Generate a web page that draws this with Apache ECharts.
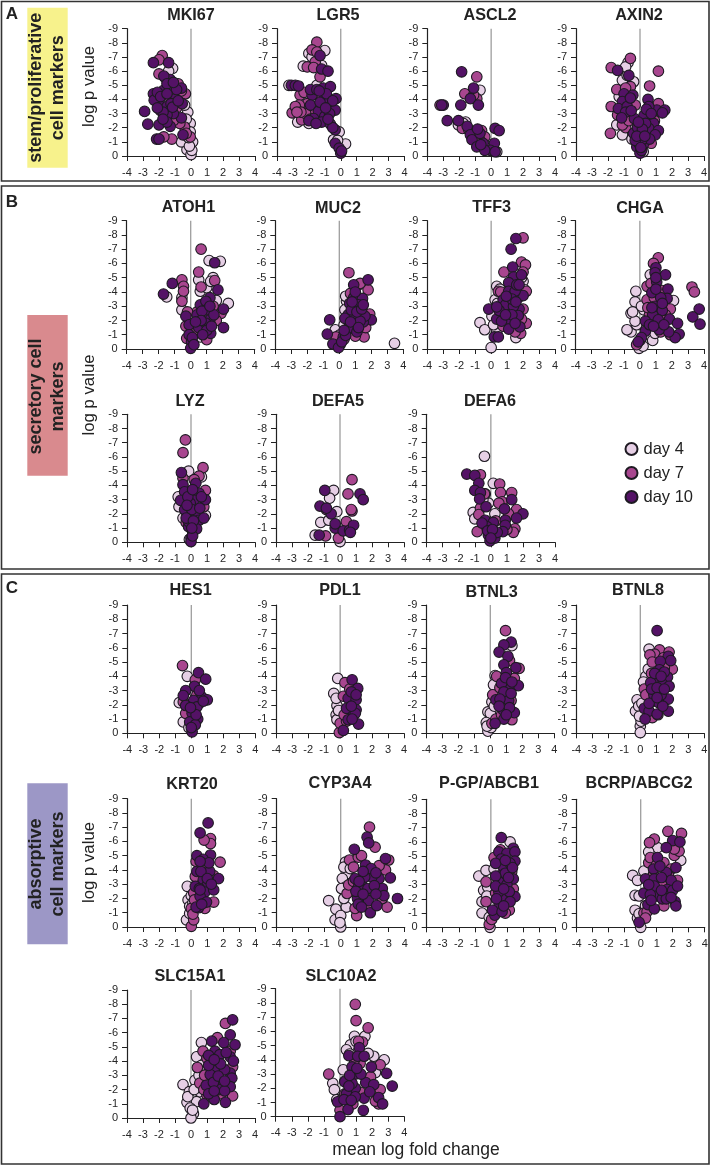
<!DOCTYPE html>
<html><head><meta charset="utf-8">
<style>html,body{margin:0;padding:0;background:#fff}#c{width:711px;height:1166px}</style>
<script src="https://cdn.jsdelivr.net/npm/echarts@6/dist/echarts.min.js"></script>
</head><body><div id="c"></div>
<script>
const xTickMin=-4, xTickMax=4, yTickMin=-9, yTickMax=0;
const zeroLine=[[0,-9],[0,0]];
const days=['day 4','day 7','day 10'];

const MKI67_d4=[[-1.15,-6.2],[-.25,-.45],[0,-.1],[.1,-1],[-.2,-3.1],[-.05,-2.3],[-.6,-1],[.05,-.4],[-.05,-1.7],[-1.4,-6],[-.3,-2.6],[-.1,-.7],[-.15,-1.3],[-.4,-3.6]];
const MKI67_d7=[[-1.8,-7.1],[-2,-6.8],[-2,-5.8],[-.35,-4.4],[-1.2,-1.2],[-1.7,-1.35],[-.4,-2.05],[-.7,-2.3],[-.05,-1.35],[-.8,-5.1],[-1.6,-5.5],[-1.1,-2.5],[-.9,-3.4],[-1.9,-3.2],[-.6,-4.6],[-.3,-1.6],[-1.5,-4.3]];
const MKI67_d10=[[-2.35,-6.6],[-1.4,-6.6],[-2.9,-3.15],[-2.7,-2.25],[-2,-2.2],[-1.3,-2.1],[-2.15,-1.2],[-2,-1.2],[-.5,-1.5],[-.6,-2.7],[-.55,-3.7],[-1.1,-3],[-1.5,-2.9],[-2,-3.85],[-1,-4.05],[-2.35,-4.4],[-1.7,-4.65],[-1.1,-4.85],[-.6,-4.8],[-1.3,-5.4],[-1.7,-5.65],[-2.3,-3.95],[-1.5,-3.5],[-2.1,-4.5],[-1.5,-5.1],[-1.25,-3.7],[-1.75,-3.1],[-1.5,-2.4],[-.9,-4.7],[-1.9,-4.2],[-1.5,-4.4],[-2.1,-3.4],[-1.15,-3.45],[-.8,-3.9],[-1.75,-2.6],[-1.1,-5.2]];

const LGR5_d4=[[-1,-7.45],[-2,-7.25],[-2.35,-6.35],[-1.5,-5],[-2.7,-2.4],[.3,-.85],[-.1,-1.7],[-.45,-1.15],[-3.25,-5],[-2,-2.3],[-1.2,-6.4],[-.2,-1.1],[-1.8,-7]];
const LGR5_d7=[[-1.5,-8.05],[-1.8,-7.5],[-1.5,-7.35],[-1.6,-6.65],[-2.1,-6.3],[-1.7,-6.25],[-1.3,-5.6],[-3.05,-3.05],[-2.55,-4.3],[-2.45,-2.55],[-2.1,-3.7],[-2.6,-3.6],[-1.6,-3],[-1.3,-4.2],[-2.2,-3],[-1.9,-2.6],[-2.3,-4.5],[-2.85,-3.5],[-2.5,-3.1],[-2.75,-3.1]];
const LGR5_d10=[[-3.1,-5],[-2.85,-5],[-2.65,-4.95],[-1.3,-7.1],[-1.2,-6.15],[-.8,-6],[-1.1,-4.8],[-.65,-4.9],[-1.8,-4.3],[-.3,-4.05],[-.75,-3.85],[-.35,-3.25],[-1.9,-3.6],[-1.4,-3.15],[-1,-2.8],[-1.7,-2.65],[-1.2,-2.4],[-.65,-2.25],[-.35,-1.85],[-.35,-.9],[-.1,-.55],[0,-.2],[-1.9,-4.7],[-1,-4.1],[-.7,-3],[-1.3,-3.8],[-.9,-4.4],[-.5,-2],[-2,-2.5],[-.5,-3.9],[.05,-.35],[-1.5,-4.7],[-.95,-3.4],[-1.55,-2.3],[-.8,-2.6],[-1.35,-4.6]];

const ASCL2_d4=[[-.7,-4.65],[-2.05,-2.2],[-1.6,-2.4],[.35,-.3],[-1.2,-4.2],[-1.75,-2.3],[-.3,-.7],[-.9,-1.6]];
const ASCL2_d7=[[-.9,-5.6],[-1.65,-4.4],[-.9,-4.05],[-3.2,-3.6],[-.6,-1.8],[-1.8,-1.95],[-.4,-1.35],[-1.4,-1.85],[-.7,-1.1],[.15,-.5],[-1.1,-4.3]];
const ASCL2_d10=[[-1.85,-5.95],[-1.1,-4.8],[-1.3,-4.05],[-1.9,-3.6],[-.8,-3.6],[-3,-3.6],[-2.75,-2.5],[-2.05,-2.5],[-1.5,-2.1],[-.95,-1.65],[-1.3,-1.5],[-1.2,-1.15],[-.9,-.65],[.25,-1.95],[.5,-1.8],[.2,-.9],[-.05,-.4],[-.5,-.9],[-.4,-.4],[.25,-.3],[-.7,-1.6],[-3.1,-3.6],[-.85,-1.9],[-.65,-.8]];

const AXIN2_d4=[[-.75,-6.6],[-.4,-5.25],[-1.1,-5.35],[-1.45,-2.2],[-1.1,-1.5],[-.8,-2.05],[-1.2,-3],[-.8,-5.7],[-.9,-6.3],[-.5,-1.2],[.2,-.3],[-1.3,-4.2],[-.6,-3.8]];
const AXIN2_d7=[[-.6,-6.9],[-1.8,-6.25],[1.15,-6],[.6,-4.95],[-1.45,-4.7],[-1.85,-1.6],[-1.8,-3.5],[1.15,-3.7],[.7,-.9],[-.6,-4.9],[-.9,-4.8],[-.9,-2],[-1.4,-2.9],[.2,-2.3],[.6,-2.8],[-.3,-3.6],[-.2,-1],[-1.1,-2.2],[-.7,-2.5],[.9,-2.5],[.4,-1.5]];
const AXIN2_d10=[[-1.4,-6.05],[-.7,-5.7],[-1,-4.4],[-.45,-4.3],[.5,-4],[-1.1,-3.85],[-1.35,-3.35],[-.8,-3.5],[1.05,-3.25],[1.55,-3.25],[1.4,-3.05],[-.9,-3.1],[-1.15,-2.7],[-.35,-2.65],[.25,-2.85],[.55,-3.5],[.85,-2.3],[.55,-1.95],[1.15,-1.8],[.95,-1.5],[.05,-1.5],[-.4,-1.6],[-.2,-.65],[0,-.2],[-.1,-1.15],[.25,-.9],[.35,-2.3],[-.6,-4.1],[.4,-3.3],[.1,-.4],[-.15,-2],[-.05,-.85],[.15,-1.9],[.6,-1.2],[.1,-1.1],[-.3,-1.1],[.05,-.6],[-.55,-3.2],[.7,-3],[-.1,-2.4],[-.2,-1.4],[.3,-1.4]];

const ATOH1_d4=[[1.15,-6.2],[1.85,-6.15],[1.4,-5],[.5,-4.85],[2.35,-3.2],[.6,-4.05],[1,-4.3],[1.25,-4.75],[-.55,-2.75],[-1.5,-3.65],[-.55,-3.6],[.6,-.85],[1.6,-3.4],[.15,-.4]];
const ATOH1_d7=[[.65,-7],[.5,-5.4],[-.55,-4.85],[-.45,-4.4],[-.45,-4.05],[.65,-4.35],[1.5,-4.8],[-.55,-3.35],[1,-.65],[-.25,-.75],[1.9,-2.5],[-.3,-1.6],[1.6,-2],[.4,-2.6],[-.2,-2.6],[.9,-1.3],[1.4,-3],[.8,-2.4],[.3,-1.2]];
const ATOH1_d10=[[-1.7,-3.85],[-1.15,-4.6],[1.5,-6.05],[1.7,-4.15],[2.05,-2.8],[2.05,-1.5],[1.2,-3.6],[.6,-3.1],[.95,-3.35],[1,-2.75],[-.3,-2.3],[.4,-2.4],[1.2,-2.05],[-.1,-1.7],[.5,-1.5],[.95,-1.8],[1.25,-1.1],[-.1,-1],[.05,-.5],[0,-.05],[.7,-2.65],[1.45,-2.4],[.1,-.8],[1,-1.3],[.65,-2],[.2,-.3],[.75,-1],[1.3,-1.6],[.3,-1.9],[1.2,-3]];

const MUC2_d4=[[.45,-3.35],[3.45,-.4],[-.25,-1.35],[.35,-2.75],[.05,-1],[.4,-3.7],[.55,-2.3],[.3,-1.7]];
const MUC2_d7=[[.6,-5.35],[1.2,-4.5],[1.8,-4.15],[1.3,-4.6],[1.55,-.85],[1.9,-2.45],[.05,-.3],[.3,-.7],[-.2,-.85],[1,-.9],[.7,-3.9],[1.65,-1.5]];
const MUC2_d10=[[-.6,-2.05],[-.75,-1.05],[-.4,-.35],[-.05,-.1],[.25,-.85],[.9,-4.5],[.9,-3.6],[.65,-3.2],[.55,-2.4],[.9,-2.3],[.9,-1.45],[.55,-1.45],[1.8,-4.85],[1.45,-3.55],[2,-2.05],[1.5,-1.9],[1,-4],[1.6,-2.3],[1.2,-3.1],[1.3,-1.95],[.35,-2.15],[.15,-.5],[.75,-2.75],[1.1,-2.6],[.4,-.95],[1.1,-1.2],[1.4,-2.8],[.7,-1.9],[1.5,-3.1],[.8,-3.3],[1.2,-1.5],[.3,-1.3]];

const TFF3_d4=[[0,-.1],[-.7,-1.85],[-.4,-1.35],[.35,-4.4],[1.55,-.8],[.35,-1.2],[.05,-2.3],[.25,-3.45],[2,-4.75],[2.1,-4.15],[.15,-1.7],[1.9,-5],[.4,-3.2],[.55,-4.2]];
const TFF3_d7=[[2,-7.8],[.8,-5.4],[1.9,-6.1],[2.15,-5.9],[2,-5.4],[.45,-4.05],[2.2,-1.8],[1.85,-1.1],[2,-2.8],[2.2,-4.05],[.6,-4],[1.4,-1.9],[1.7,-3.6],[1.5,-1.2],[.75,-1.6],[1.9,-2.1]];
const TFF3_d10=[[1.55,-7.75],[1.25,-7],[1.35,-5.75],[1.4,-5.05],[1.9,-5.2],[1.1,-4.65],[1.1,-4.05],[2,-3.75],[-.15,-2.8],[.75,-3.45],[.65,-2.8],[1.1,-3.1],[1.75,-2.8],[1.7,-2.35],[.35,-2.1],[1.1,-2.1],[1.1,-1.4],[1.8,-1.55],[.2,-.85],[.45,-.85],[1.5,-4.05],[.65,-1.95],[.9,-3.1],[1.4,-3],[1.3,-2.4],[.5,-2.7],[1.5,-1.8],[.9,-2.4],[1.3,-3.5],[.95,-3.7],[1.55,-3.3],[1.6,-4.5],[.35,-2.95],[1.75,-4.5]];

const CHGA_d4=[[-.25,-4.05],[-.55,-2.5],[-.3,-3.3],[-.55,-1.2],[-.8,-1.35],[-.2,-1.7],[.8,-.6],[.65,-5.2],[2.1,-3.4],[-.05,-.05],[.25,-2.75],[-.3,-1.95],[.2,-.2],[.95,-1.1],[-.45,-2.6],[.1,-3]];
const CHGA_d7=[[1.15,-6.4],[3.25,-4.35],[3.4,-4],[.45,-4.4],[.85,-6],[1.9,-2.8],[-.2,-.3],[1.9,-1],[.45,-3.45],[1.5,-3.5],[.9,-3.6],[0,-.6],[1.3,-1.2],[.6,-2.4],[1.4,-4.1],[.7,-4.6],[.5,-2.9],[1.6,-2.4]];
const CHGA_d10=[[1,-5.7],[.95,-5.35],[1.6,-5.2],[1.05,-4.7],[1.75,-4.2],[.75,-3.95],[1.7,-3.55],[.95,-3],[1.4,-2.7],[.8,-2.4],[.35,-1.95],[1.15,-2.05],[1.85,-2.1],[2.35,-1.8],[2.45,-1.05],[2.2,-.8],[1.8,-1.2],[1.2,-1.35],[.35,-1.25],[.1,-.8],[-.1,-.5],[3.7,-2.8],[3.3,-2.25],[3.75,-1.75],[1,-5],[1.3,-3.6],[.6,-1.7],[1,-4.2],[1.4,-3.2],[.75,-2.9],[1.5,-1.7],[.85,-1.6]];

const LYZ_d4=[[-.15,-5],[.65,-4.6],[-.75,-2.5],[.9,-1.9],[-.8,-3.2],[-.1,-.2],[.3,-2.2],[-.5,-1.7]];
const LYZ_d7=[[-.35,-7.2],[-.5,-6.3],[.75,-5.25],[.5,-4.65],[.9,-3.65],[-.5,-4.5],[-.05,-3.55],[.8,-2.5],[.2,-4.4],[-.3,-1.4],[-.2,-3],[.5,-1.9]];
const LYZ_d10=[[-.6,-4.9],[-.5,-4.05],[.3,-4.15],[-.4,-3.55],[.5,-3.45],[-.65,-2.95],[.9,-3],[.2,-2.95],[-.25,-2],[.35,-2],[.5,-1.55],[.8,-1.7],[-.4,-2.3],[-.05,-2.75],[-.15,-1.1],[.1,-.75],[0,-.3],[0,-.05],[-.15,-1.45],[.05,-2.3],[.55,-2.4],[.35,-.95],[-.3,-1.7],[.65,-3.2],[.15,-1.5],[.1,-.45],[-.2,-3.2],[.1,-3.7],[.05,-1],[-.25,-2.6]];

const DEFA5_d4=[[-.4,-3.65],[-.65,-3.1],[-1.2,-1.4],[-1.55,-.5],[-.2,-2.15],[-.7,-1.55],[0,-.05]];
const DEFA5_d7=[[.75,-4.4],[.5,-3.4],[.75,-2.2],[-.9,-.45],[-.1,-.3],[.4,-1.45],[.7,-2.3],[-.85,-2.3]];
const DEFA5_d10=[[-.95,-3.65],[-1.25,-2.55],[-.55,-2],[-.3,-1],[-.3,-1.3],[-1.3,-.5],[.2,-.8],[.6,-.85],[.85,-1.2],[1.25,-3.4],[1.45,-3],[-.85,-2.4],[.65,-.7]];

const DEFA6_d4=[[-.4,-6.05],[.15,-4.15],[-1.1,-2.1],[-1,-1.65],[.25,-2],[-.15,-2.75],[-.35,-3.4],[-.5,-3],[.1,-.5]];
const DEFA6_d7=[[-.65,-4.75],[.55,-4.1],[.6,-3.5],[1.3,-3.5],[.7,-2.85],[1.6,-2.3],[1.5,-.95],[1.4,-.7],[-.85,-.75],[-.65,-2.4],[-.75,-1.95],[.5,-2.75],[1.1,-2],[.3,-1.5],[1,-.9],[-.4,-3.4]];
const DEFA6_d10=[[-1.5,-4.8],[-1,-4.7],[-.75,-4.15],[-1,-3.65],[-.65,-3.5],[-.7,-3.05],[-.3,-2.5],[1.3,-3],[.85,-2.35],[2,-2],[1.6,-1.7],[-.35,-1.55],[.9,-1.55],[.15,-1.4],[.9,-1.2],[-.25,-1.1],[-.55,-1.35],[.75,-.75],[-.15,-.5],[-.05,-.1],[.25,-.3],[.4,-.7],[-.2,-.8],[.1,-.9],[0,-.3]];

const HES1_d4=[[-.25,-4],[-.75,-2.15],[-.5,-.8],[.2,-2.9],[-.15,-.4]];
const HES1_d7=[[-.55,-4.75],[.25,-3.75],[-.35,-1.4],[.35,-2.7],[-.5,-2.2],[.5,-2.1],[.1,-.9]];
const HES1_d10=[[.45,-4.25],[.9,-3.8],[.2,-3.3],[-.35,-3],[-.5,-2.65],[.65,-2.55],[1,-2.35],[.15,-2.3],[-.35,-1.95],[.35,-1.85],[.05,-1.4],[.4,-1],[-.1,-.8],[.25,-.6],[.05,-.1],[0,-.4],[.75,-2.25],[.5,-3],[.3,-1.3],[-.05,-1.8]];

const PDL1_d4=[[-.15,-3.85],[-.4,-2.8],[-.2,-1.95],[-.25,-1.3],[-.2,-.95],[-.25,-2.45],[-.1,-1.6]];
const PDL1_d7=[[.3,-3.55],[-.05,-.05],[.2,-2.6],[0,-.7],[.6,-3.1],[.4,-.85],[.25,-1.3],[.8,-2.1]];
const PDL1_d10=[[.75,-3.75],[1.1,-3.15],[.5,-2.45],[1,-2.35],[.4,-1.75],[.85,-1.3],[.5,-.95],[1.15,-.65],[.2,-.2],[.7,-2.9],[1,-1.65],[.95,-1.4],[.7,-1.9],[1,-2.7],[.75,-1]];

const BTNL3_d4=[[1.35,-6.15],[.3,-4.05],[-.15,-1.5],[0,-1.4],[-.15,-.15],[-.25,-.75],[.1,-2.2],[.2,-3.4],[.05,-.4],[.25,-1.9],[-.2,-.5]];
const BTNL3_d7=[[.95,-7.2],[1.8,-4.55],[.15,-2.7],[1.35,-.95],[.4,-4],[.1,-.7],[1.5,-3.85],[1.2,-5.1],[.6,-3.2],[.35,-1],[1.3,-2.3],[.7,-1.3]];
const BTNL3_d10=[[1.3,-6.4],[.85,-6.2],[.55,-5.7],[1.1,-5.4],[.85,-4.8],[1.6,-4.6],[1,-4.25],[1.75,-3.35],[1.15,-3.2],[.7,-3.5],[.85,-2.9],[.35,-2.35],[1.15,-2.3],[.8,-1.65],[1.5,-1.45],[.85,-1],[.3,-.7],[1.3,-2.8],[.95,-3.9],[.6,-2.4],[1.2,-1.8],[1.35,-3.6],[1,-1.3],[.55,-1.9]];

const BTNL8_d4=[[.55,-5.9],[-.2,-2.35],[-.3,-1.55],[0,-.5],[0,-.05],[-.1,-1.9],[.35,-4],[.5,-4.5],[.05,-.85],[-.05,-1.2],[.2,-3.6],[.1,-2.1]];
const BTNL8_d7=[[1.2,-5.85],[1.8,-5.7],[.9,-5.55],[.6,-5.5],[.25,-3.1],[.75,-1.1],[2,-4.5],[.35,-2.7],[1.5,-4.6],[1.1,-1.3],[.7,-4.2],[1.4,-2.1],[.5,-1.6],[1.45,-5.3],[.75,-5]];
const BTNL8_d10=[[1.05,-7.2],[1.75,-5.4],[1.9,-5.1],[1.25,-5.05],[1.2,-4.45],[1.7,-3.95],[.95,-3.7],[.65,-3.55],[1.4,-3.45],[1.8,-3.3],[.8,-2.25],[1.75,-2.4],[.25,-1.75],[.55,-1.55],[1.05,-1.35],[1.75,-1.55],[.3,-1],[1.15,-2.15],[.85,-2.7],[.7,-3.1],[1.3,-2.7],[1.5,-4.3],[1.05,-3.2],[.55,-2.1],[1.4,-1.9],[1.05,-2.5],[.9,-4.2],[1.5,-3.1],[1.3,-4]];

const KRT20_d4=[[-.25,-2.85],[-.3,-.5],[-.2,-1.9],[-.1,-1.45],[-.1,-.95],[.35,-2.95],[0,-2.2],[.1,-1.7]];
const KRT20_d7=[[1.2,-6.2],[1.2,-5.85],[.8,-6.1],[1.8,-4.55],[0,-.05],[.15,-.5],[1.4,-1.75],[0,-1.3],[.25,-3.55],[.3,-4.6],[1.4,-3.6],[.15,-2.4],[.85,-1.3],[.1,-.9],[.9,-4.3],[.2,-1.9]];
const KRT20_d10=[[1.05,-7.3],[.55,-6.6],[1.2,-5.05],[.35,-5],[.75,-4.75],[1.15,-3.9],[.35,-3.9],[1.7,-3.4],[.75,-3.3],[.25,-2.85],[.95,-2.85],[.85,-2.45],[.55,-2.15],[.95,-1.75],[.45,-1.35],[1.4,-2.6],[.6,-3.9],[1,-3.4],[.5,-2.7],[1.1,-4.5],[.3,-1.4],[.55,-2.6],[.65,-1.6],[.55,-4.6],[1.25,-3]];

const CYP3A4_d4=[[.3,-4.55],[.4,-3.75],[-.75,-1.85],[-.3,-1.25],[-.35,-.5],[0,0],[.35,-1.4],[.2,-2],[.1,-3.4],[.3,-2.8],[0,-.8],[.2,-4.2],[.05,-2.7],[-.05,-.3],[.6,-4.1]];
const CYP3A4_d7=[[1.8,-7],[2.15,-5.6],[.55,-4.7],[.8,-4.2],[1.1,-4.9],[.4,-2.35],[.5,-2.95],[1.3,-5],[2.9,-1.4],[3,-4.7],[2.8,-4],[1,-.8],[2.4,-4.3],[.9,-1.3],[1.8,-1.3],[2.6,-2],[.8,-3.2],[1.5,-2.2]];
const CYP3A4_d10=[[1.65,-6.3],[1.75,-5.9],[2.8,-4.8],[3.1,-3.45],[3.55,-2],[.85,-5.45],[1.85,-1],[1.75,-1.85],[2.4,-3.4],[2.6,-2.7],[1.35,-2.9],[1.05,-2],[1.1,-2.8],[1.55,-4.35],[1.95,-3.5],[2.25,-1.5],[.9,-3.4],[1.1,-1.6],[1.5,-3.5],[1.7,-2.7],[2.1,-2.9],[1.3,-1.4],[1.9,-4.1],[.95,-2.5],[2.7,-2.2],[1.4,-3.9],[1.4,-2.3],[2.2,-2.3],[2.2,-3.8],[1.15,-3.2]];

const PGP_d4=[[1.2,-6],[-.75,-3.6],[-.3,-4],[-.55,-1],[-.55,-1.8],[-.45,-2.6],[-.2,-2.85],[-.05,0],[-.1,-.7],[.2,-4.1],[-.25,-2.2],[.1,-1.5]];
const PGP_d7=[[-.3,-3.2],[-.1,-.2],[-.3,-1.8],[1.15,-1.2],[.9,-1],[1.3,-3.9],[.6,-5.45],[.05,-.55],[.2,-4.9],[.3,-2.4],[1.4,-2.7],[.3,-1.1]];
const PGP_d10=[[.65,-6.3],[1.4,-5.55],[.5,-5.3],[1,-5.2],[1.5,-5.3],[1.5,-4.65],[.65,-4.8],[.75,-4.3],[.5,-3.6],[.5,-3.2],[1.4,-3.4],[1.5,-2.15],[.85,-2],[.5,-2.5],[.5,-1.45],[.25,-.85],[.1,-1.2],[1,-3],[1.2,-4.5],[.9,-3.8],[.3,-3.6],[.35,-2],[1.15,-2.5],[.7,-1.1],[1.2,-1.8],[.3,-2.9],[.8,-2.7],[1.1,-3.5],[.8,-1.5],[.3,-4.5],[1.35,-4.2],[.9,-4.7]];

const BCRP_d4=[[-.5,-3.65],[-.2,-3.3],[-.35,-2.25],[-.35,-1.2],[0,0],[1.05,-5.6],[-.1,-2.2],[-.2,-.65],[.2,-3.95],[.5,-5.3],[2.5,-4.7],[-.1,-.95],[.3,-1.5]];
const BCRP_d7=[[1.7,-6.75],[2.55,-6.6],[.85,-6.2],[.55,-5.95],[2.1,-5.05],[2.4,-5.35],[1.45,-1.5],[.2,-1],[.4,-1.1],[.5,-4.55],[1.45,-4.55],[.3,-.65],[.6,-4.9],[2.3,-3.3],[1.3,-3],[2.1,-5.5],[.8,-3.7],[1.9,-4.1],[1,-4.4],[1.75,-3.6]];
const BCRP_d10=[[2,-6.1],[2.45,-6],[1.6,-5.6],[1.05,-4.9],[2.2,-4.2],[.8,-4.1],[1.6,-3.85],[.3,-3.4],[.85,-3.4],[1.9,-3.3],[.85,-2.9],[1.65,-2.65],[2,-2.6],[.2,-2.4],[1.05,-2.2],[.6,-2.3],[2.15,-1.8],[.45,-1.6],[.85,-1.3],[-.1,-.35],[2.2,-1.5],[1.35,-2],[1.3,-3.5],[2.3,-2.9],[1.2,-4.3],[.5,-3],[1.6,-2],[1.3,-2.6],[1.9,-2.1],[.65,-1.9]];

const SLC15A1_d4=[[.65,-5.3],[.35,-4.3],[-.5,-2.35],[-.1,-1.85],[-.25,-1.1],[.15,-.3],[0,0],[.25,-2.65],[.35,-1.15],[.55,-1.85],[-.05,-.7],[.65,-3.7],[-.2,-1.5],[.2,-2],[.1,-.55],[.5,-3]];
const SLC15A1_d7=[[2.15,-6.65],[1.65,-5.65],[.75,-4.7],[.4,-3.55],[2.6,-1.55],[2.45,-4.7],[1,-1.6],[.55,-2.45],[1,-4.2],[2.3,-2.2],[1.4,-2.2],[.85,-3],[2.6,-3.6],[1.9,-1.7],[.8,-2]];
const SLC15A1_d10=[[2.6,-6.9],[2.45,-5.85],[2.75,-5.15],[1.3,-5.4],[2.05,-5.3],[1.5,-4.7],[1.8,-4.45],[2.45,-4.3],[2.65,-4],[1.4,-3.6],[1.6,-3.35],[1.2,-3.05],[2.45,-3.15],[1.9,-2.6],[2.55,-2.8],[.95,-2.3],[1.75,-2],[.8,-1],[1.45,-1.3],[2.15,-1.1],[2.45,-2.2],[1.1,-3.7],[2.1,-3.4],[1.4,-2.5],[1.1,-1.7],[2.1,-1.9],[1.1,-4.4],[2.2,-4.6],[1.85,-3.8],[1.7,-2.95],[1.45,-4.1],[2.1,-2.6],[1.45,-1.9]];

const SLC10A2_d4=[[.9,-5.65],[1.55,-5.65],[.65,-5.05],[.4,-4.7],[2.75,-4],[2.1,-4.25],[-.45,-2.35],[-.35,-1.9],[.2,-3.3],[1.75,-4.45],[1,-5.3],[.6,-4.4],[-.2,-1.2],[.3,-2.5],[2.2,-3.1]];
const SLC10A2_d7=[[.95,-7.9],[1,-6.75],[1.75,-6.25],[1.4,-5.25],[-.7,-3],[2.5,-3.65],[1.15,-5.3],[2.5,-1.9],[2.4,-.9],[0,-.45],[1.25,-3.75],[.1,-1.2],[.3,-1.6],[.8,-.9],[1.9,-2.8],[2.2,-1.1],[.9,-4],[1.3,-1.7]];
const SLC10A2_d10=[[2.9,-3.05],[3.25,-2.15],[1.2,-4.85],[.55,-4.3],[1.1,-4.25],[1.5,-4.25],[1.95,-3.5],[.75,-3.5],[.95,-3],[.3,-2.45],[1.6,-2.4],[2.1,-2.25],[.95,-2],[.4,-1.6],[2.4,-1.35],[2.65,-.9],[1.5,-1.3],[1.45,-.45],[.5,-.5],[-.15,-1.05],[0,0],[.95,-1.4],[.75,-2.35],[1.85,-1.75],[.6,-2.9],[.25,-1.2],[.55,-2.15],[1.3,-3],[.7,-1.15],[1.05,-3.4]];

// layout of the panels: [title, d4, d7, d10, gridLeft, gridTop, gridWidth, gridHeight, titleX, titleY]
const panels=[
 ['MKI67',MKI67_d4,MKI67_d7,MKI67_d10,127,28.7,128,127.3,191,15.7],
 ['LGR5',LGR5_d4,LGR5_d7,LGR5_d10,277,28.7,127.5,127.3,338,15.7],
 ['ASCL2',ASCL2_d4,ASCL2_d7,ASCL2_d10,427.3,28.7,127.7,127.3,490,16],
 ['AXIN2',AXIN2_d4,AXIN2_d7,AXIN2_d10,576,28.7,128,127.3,639,16],
 ['ATOH1',ATOH1_d4,ATOH1_d7,ATOH1_d10,126.7,220.7,128,128.3,188.5,208],
 ['MUC2',MUC2_d4,MUC2_d7,MUC2_d10,275.3,220.7,128,128.3,338,208.5],
 ['TFF3',TFF3_d4,TFF3_d7,TFF3_d10,427.3,220.7,127.7,128.3,491.7,208],
 ['CHGA',CHGA_d4,CHGA_d7,CHGA_d10,575.7,220.7,128.3,128.3,640,209],
 ['LYZ',LYZ_d4,LYZ_d7,LYZ_d10,127,414.3,128,128,190,401.7],
 ['DEFA5',DEFA5_d4,DEFA5_d7,DEFA5_d10,276,414.3,128,128,338,401.7],
 ['DEFA6',DEFA6_d4,DEFA6_d7,DEFA6_d10,426.7,414.3,128.3,128,490,401.7],
 ['HES1',HES1_d4,HES1_d7,HES1_d10,127.3,605,128,128.3,190.7,590.7],
 ['PDL1',PDL1_d4,PDL1_d7,PDL1_d10,276.3,605,127.7,128.3,340,591],
 ['BTNL3',BTNL3_d4,BTNL3_d7,BTNL3_d10,426.3,605,128,128.3,491.7,592.7],
 ['BTNL8',BTNL8_d4,BTNL8_d7,BTNL8_d10,576.3,605,128,128.3,638,590.7],
 ['KRT20',KRT20_d4,KRT20_d7,KRT20_d10,127.3,798.7,128,128.3,192,785],
 ['CYP3A4',CYP3A4_d4,CYP3A4_d7,CYP3A4_d10,276.7,798.7,128,128.3,340,783.3],
 ['P-GP/ABCB1',PGP_d4,PGP_d7,PGP_d10,426.7,799.3,128.3,128,489,783.3],
 ['BCRP/ABCG2',BCRP_d4,BCRP_d7,BCRP_d10,576.7,799.3,128,128,639,783.3],
 ['SLC15A1',SLC15A1_d4,SLC15A1_d7,SLC15A1_d10,127,990,128,128,190,977],
 ['SLC10A2',SLC10A2_d4,SLC10A2_d7,SLC10A2_d10,275.7,988.7,128.6,128,341,977]
];

const FONT='"Liberation Sans",Arial,sans-serif';
const dayColors=['#e6cfe5','#a8468f','#541266'];
const INK='#222222', TICK='#262626';

const grid=[],xAxis=[],yAxis=[],series=[],title=[];
panels.forEach((p,i)=>{
  grid.push({left:p[4],top:p[5],width:p[6],height:p[7],containLabel:false});
  xAxis.push({gridIndex:i,type:'value',min:xTickMin,max:xTickMax,interval:1,position:'bottom',
    axisLine:{show:true,onZero:false,lineStyle:{color:INK,width:1.2}},
    axisTick:{show:true,length:5,lineStyle:{color:INK,width:1}},
    axisLabel:{show:true,margin:11,fontSize:11,color:TICK,fontFamily:FONT,hideOverlap:false,showMinLabel:true,showMaxLabel:true},
    splitLine:{show:false}});
  yAxis.push({gridIndex:i,type:'value',inverse:true,min:yTickMin,max:yTickMax,interval:1,position:'left',
    axisLine:{show:true,onZero:false,lineStyle:{color:INK,width:1.2}},
    axisTick:{show:true,length:5,lineStyle:{color:INK,width:1}},
    axisLabel:{show:true,margin:9,fontSize:11,color:TICK,fontFamily:FONT,hideOverlap:false,showMinLabel:true,showMaxLabel:true},
    splitLine:{show:false}});
  title.push({text:p[0],left:p[8],top:p[9],textAlign:'center',textVerticalAlign:'middle',padding:0,
    textStyle:{fontFamily:FONT,fontWeight:'bold',fontSize:16.2,color:INK}});
  series.push({type:'line',xAxisIndex:i,yAxisIndex:i,data:zeroLine,symbol:'none',silent:true,z:1,
    lineStyle:{color:'#9e9e9e',width:1.3}});
  days.forEach((d,k)=>{
    series.push({type:'scatter',name:d,xAxisIndex:i,yAxisIndex:i,data:p[k+1],symbol:'circle',symbolSize:10.6,z:2+k,clip:false,
      itemStyle:{color:dayColors[k],borderColor:'#1e1a22',borderWidth:1.1,opacity:1},silent:true});
  });
});

function frame(x,y,w,h){return {type:'rect',shape:{x,y,width:w,height:h},style:{fill:'none',stroke:'#333',lineWidth:1.6},silent:true,z:0};}
function box(x,y,w,h,c){return {type:'rect',shape:{x,y,width:w,height:h},style:{fill:c},silent:true,z:0};}
function txt(t,x,y,size,bold,rot,lh){return {type:'text',x,y,rotation:rot?Math.PI/2:0,silent:true,z:10,
  style:{text:t,x:0,y:0,align:'center',verticalAlign:'middle',fill:INK,lineHeight:lh||undefined,
  font:(bold?'bold ':'')+size+'px '+FONT}};}

const graphic=[
  frame(1.5,1.5,707.5,179.5),frame(1.5,186,707.5,383),frame(1.5,574,707.5,590),
  box(27.3,7.7,40.4,160,'#f7f28c'),box(27.3,315,40.4,160.7,'#d98a8e'),box(27.3,783.3,40.4,161,'#9c97c6'),
  txt('A',12,14,17,true),txt('B',12,202,17,true),txt('C',12,588,17,true),
  txt('stem/proliferative\ncell markers',47,87.7,18,true,true,22),
  txt('secretory cell\nmarkers',47,396.5,18,true,true,22),
  txt('absorptive\ncell markers',47,864,18,true,true,22),
  txt('log p value',89,86.5,16.8,false,true),
  txt('log p value',89,395,16.8,false,true),
  txt('log p value',89,862.5,16.8,false,true),
  txt('mean log fold change',416,1150,17.5,false,false)
];

const chart=echarts.init(document.getElementById('c'),null,{renderer:'canvas',width:711,height:1166});
chart.setOption({
  animation:false,backgroundColor:'#ffffff',
  title,grid,xAxis,yAxis,series,graphic:{elements:graphic},tooltip:{show:false},
  legend:{show:true,orient:'vertical',left:624.5,top:440.5,padding:0,itemWidth:12,itemHeight:12,itemGap:7,icon:'circle',selectedMode:false,
    data:days,textStyle:{fontFamily:FONT,fontSize:16.5,color:INK,padding:[0,0,0,1]}}
});
</script></body></html>
